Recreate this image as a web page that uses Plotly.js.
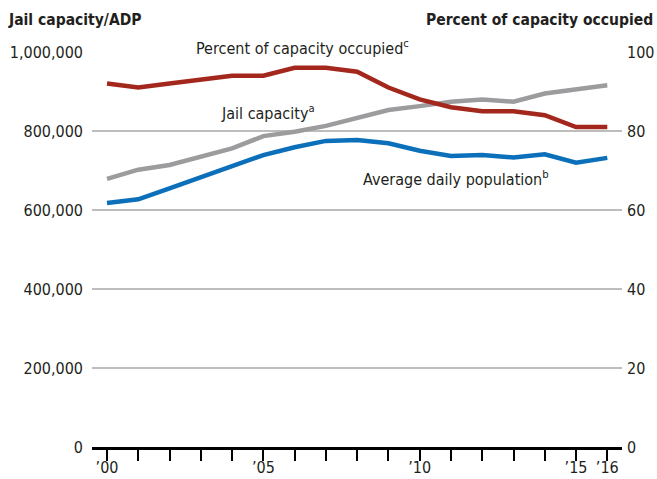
<!DOCTYPE html>
<html>
<head>
<meta charset="utf-8">
<script src="https://cdn.plot.ly/plotly-3.0.1.min.js"></script>
<style>html,body{margin:0;padding:0;background:#fff;}#chart{width:657px;height:479px;}</style>
</head>
<body>
<div id="chart"></div>
<script>
const years = [2000,2001,2002,2003,2004,2005,2006,2007,2008,2009,2010,2011,2012,2013,2014,2015,2016];
const jailCapacity = [679000,702000,714000,735000,756000,787000,798000,813000,832000,853000,863000,874000,880000,874000,895000,906000,916000];
const avgDailyPop = [618000,627000,655000,684000,711000,739000,759000,775000,777000,769000,750000,737000,739000,733000,741000,720000,732000];
const pctOccupied = [92,91,92,93,94,94,96,96,95,91,88,86,85,85,84,81,81];
const xLabelYears = [2000,2005,2010,2015,2016];
const xTickText = ["’00","’05","’10","’15","’16"];

const FONT = "'DejaVu Sans Condensed', 'Liberation Sans Narrow', sans-serif";
const TXT = "#231f20";

const traces = [
  {x: years, y: jailCapacity, type: 'scatter', mode: 'lines', line: {color: '#9c9c9e', width: 4.5}, yaxis: 'y', hoverinfo: 'skip'},
  {x: years, y: avgDailyPop, type: 'scatter', mode: 'lines', line: {color: '#0b6fba', width: 4.5}, yaxis: 'y', hoverinfo: 'skip'},
  {x: years, y: pctOccupied, type: 'scatter', mode: 'lines', line: {color: '#a3271c', width: 4.5}, yaxis: 'y2', hoverinfo: 'skip'}
];

const layout = {
  width: 657, height: 479,
  margin: {l: 92, r: 35, t: 52, b: 32},
  paper_bgcolor: '#fff', plot_bgcolor: '#fff',
  showlegend: false,
  font: {family: FONT, size: 16, color: TXT},
  xaxis: {
    range: [1999.52, 2016.47],
    tickvals: xLabelYears, ticktext: xTickText,
    ticks: 'outside', ticklen: 11, tickwidth: 2, tickcolor: '#000',
    minor: {tick0: 2000, dtick: 1, ticks: 'outside', ticklen: 11, tickwidth: 2, tickcolor: '#000', showgrid: false},
    showline: true, linecolor: '#000', linewidth: 2.5,
    showgrid: false, zeroline: false,
    ticklabelstandoff: -7,
    tickfont: {family: FONT, size: 16, color: TXT}
  },
  yaxis: {
    range: [0, 1000000], dtick: 200000, tickformat: ',d',
    showgrid: true, gridcolor: '#bdbdbd', gridwidth: 1.2,
    zeroline: false, showline: false, ticks: '',
    ticklabelstandoff: 8,
    tickfont: {family: FONT, size: 16, color: TXT}
  },
  yaxis2: {
    range: [0, 100], dtick: 20, overlaying: 'y', side: 'right',
    showgrid: false, zeroline: false, showline: false, ticks: '',
    ticklabelstandoff: 4,
    tickfont: {family: FONT, size: 16, color: TXT}
  },
  annotations: [
    {text: '<b>Jail capacity/ADP</b>', xref: 'paper', yref: 'paper', x: -86/530, y: 1 + 32/395, xanchor: 'left', yanchor: 'middle', showarrow: false, font: {family: FONT, size: 15.5, color: TXT}},
    {text: '<b>Percent of capacity occupied</b>', xref: 'paper', yref: 'paper', x: 1 + 33/530, y: 1 + 32/395, xanchor: 'right', yanchor: 'middle', showarrow: false, font: {family: FONT, size: 15.5, color: TXT}},
    {text: 'Percent of capacity occupied<sup>c</sup>', xref: 'x', yref: 'paper', x: 2006.24, y: 1 + 4/395, xanchor: 'center', yanchor: 'middle', showarrow: false, bgcolor: '#fff', borderpad: 3, font: {family: FONT, size: 16, color: TXT}},
    {text: 'Jail capacity<sup>a</sup>', xref: 'x', yref: 'y', x: 2005.15, y: 848000, xanchor: 'center', yanchor: 'middle', showarrow: false, font: {family: FONT, size: 16, color: TXT}},
    {text: 'Average daily population<sup>b</sup>', xref: 'x', yref: 'y', x: 2011.17, y: 681000, xanchor: 'center', yanchor: 'middle', showarrow: false, font: {family: FONT, size: 16, color: TXT}}
  ]
};

Plotly.newPlot('chart', traces, layout, {displayModeBar: false, staticPlot: true});
</script>
</body>
</html>
